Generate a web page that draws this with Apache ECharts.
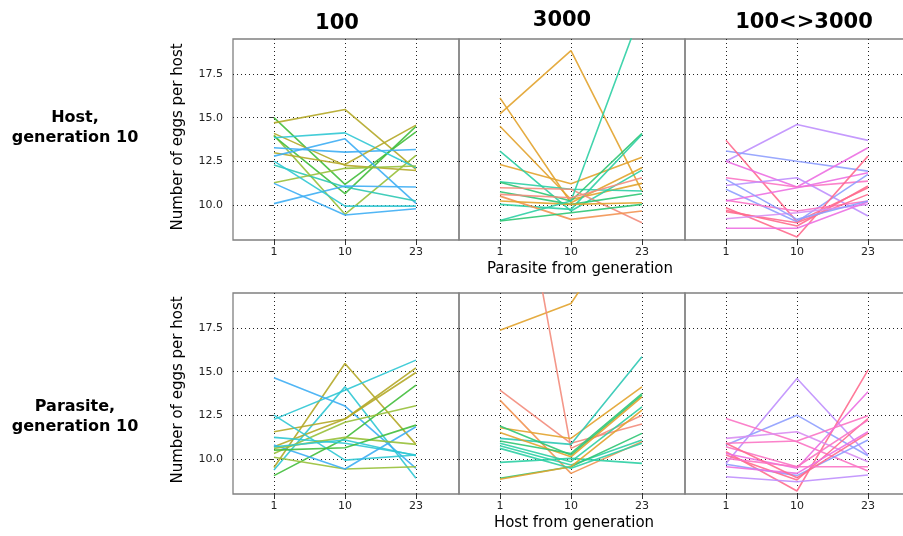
<!DOCTYPE html>
<html>
<head>
<meta charset="utf-8">
<script src="https://cdn.jsdelivr.net/npm/echarts@6/dist/echarts.min.js"></script>
<style>
  html, body { margin: 0; padding: 0; background: #fff; }
  #chart { width: 903px; height: 536px; }
</style>
</head>
<body>
<div id="chart"></div>
<script>
// Generations tested on the x axis and tick values on the y axis
const generations = ['1', '10', '23'];
const yTicks = [10, 12.5, 15, 17.5];
const panelTitles = ['100', '3000', '100<>3000'];
const rowLabels = ['Host,\ngeneration 10', 'Parasite,\ngeneration 10'];
const xAxisNames = ['Parasite from generation', 'Host from generation'];
const yAxisName = 'Number of eggs per host';

// Eggs per host for each replicate line: [gen 1, gen 10, gen 23]
// Row 1: host from generation 10
const host100 = [
  [15.00, 11.18, 14.19],
  [14.70, 15.47, 12.04],
  [14.10, 12.27, 11.98],
  [14.00, 9.47, 12.84],
  [13.94, 10.65, 14.50],
  [13.85, 14.13, 12.13],
  [13.28, 13.03, 13.18],
  [12.99, 12.32, 14.57],
  [12.80, 13.79, 10.10],
  [12.29, 11.03, 10.23],
  [11.28, 12.10, 12.23],
  [11.24, 9.43, 9.79],
  [10.08, 11.09, 11.03],
  [12.51, 9.94, 9.94]
];
const host3000 = [
  [15.22, 18.84, 10.80],
  [16.13, 10.13, 12.13],
  [14.51, 10.32, 11.24],
  [12.32, 11.22, 12.74],
  [13.09, 9.66, 12.00],
  [11.33, 10.90, 10.80],
  [11.30, 10.23, 14.10],
  [10.04, 9.75, 14.04],
  [10.99, 10.90, 8.99],
  [10.76, 10.04, 10.65],
  [10.51, 9.18, 9.66],
  [10.23, 10.04, 10.13],
  [9.12, 10.23, 21.20],
  [9.09, 9.56, 10.04],
  [10.61, 10.42, 11.56]
];
const hostMixed = [
  [12.51, 14.61, 13.70],
  [13.09, 12.51, 11.94],
  [13.71, 9.05, 10.99],
  [12.51, 11.03, 13.28],
  [11.56, 11.03, 11.37],
  [11.12, 11.56, 9.37],
  [10.90, 9.05, 11.75],
  [10.27, 9.66, 10.23],
  [10.23, 10.99, 11.85],
  [9.85, 8.17, 12.80],
  [9.70, 8.80, 11.09],
  [9.62, 8.99, 10.61],
  [9.22, 9.56, 10.04],
  [8.67, 8.67, 10.19],
  [11.47, 9.18, 10.23]
];
// Row 2: parasite from generation 10
const parasite100 = [
  [9.52, 15.47, 10.84],
  [12.27, 13.94, 15.66],
  [9.37, 14.13, 8.90],
  [14.65, 13.03, 9.47],
  [11.56, 12.29, 15.22],
  [10.70, 12.29, 14.95],
  [9.05, 11.18, 14.23],
  [10.32, 12.10, 13.05],
  [12.51, 9.94, 10.23],
  [10.10, 9.43, 9.56],
  [11.24, 10.90, 10.23],
  [10.80, 9.43, 11.85],
  [10.61, 11.24, 10.84],
  [10.51, 10.65, 11.94],
  [10.70, 11.09, 10.19]
];
const parasite3000 = [
  [17.37, 18.90, 25.00],
  [33.00, 10.61, 12.51],
  [13.94, 10.90, 12.00],
  [13.37, 9.18, 10.99],
  [11.79, 11.18, 14.13],
  [11.18, 10.84, 15.85],
  [11.89, 10.23, 13.66],
  [11.52, 10.13, 13.56],
  [11.03, 10.32, 13.75],
  [10.90, 9.85, 12.99],
  [10.76, 9.66, 11.09],
  [9.81, 10.04, 9.75],
  [8.90, 9.56, 11.47],
  [8.84, 9.56, 12.80],
  [10.61, 9.47, 10.90]
];
const parasiteMixed = [
  [9.75, 14.61, 10.23],
  [10.80, 12.51, 10.19],
  [12.32, 10.99, 9.31],
  [10.42, 8.17, 15.09],
  [10.32, 9.47, 13.85],
  [10.90, 11.03, 12.48],
  [11.18, 11.56, 9.85],
  [9.70, 9.05, 11.09],
  [10.23, 8.80, 12.32],
  [10.70, 9.56, 12.23],
  [9.56, 9.18, 11.56],
  [8.99, 8.70, 9.09],
  [10.90, 8.93, 11.47],
  [10.04, 9.56, 9.56]
];

// Line colours, one per replicate line in each panel
const OLIVE = '#b4a828', YGREEN = '#98c03a', GREEN = '#42be3c', CYAN = '#30c8d4', BLUE = '#3eaef4', TEAL = '#2ec8b4';
const ORANGE = '#e2a32e', SALMON = '#f38c7c', CORAL = '#f29452', MINT = '#2fc774', JADE = '#2ecfa4';
const PURPLE = '#bf8ffd', PERI = '#8f9ffe', MAGENTA = '#ec6fe2', PINK = '#fb74c4', ROSE = '#ff6c8e', LILAC = '#d88ff2';
const hostColors100 = [GREEN, OLIVE, OLIVE, YGREEN, GREEN, CYAN, BLUE, OLIVE, BLUE, TEAL, YGREEN, BLUE, BLUE, CYAN];
const hostColors3000 = [ORANGE, ORANGE, ORANGE, ORANGE, JADE, JADE, MINT, JADE, SALMON, MINT, CORAL, ORANGE, JADE, MINT, SALMON];
const hostColorsMixed = [PURPLE, PERI, ROSE, MAGENTA, PINK, PURPLE, PERI, PINK, MAGENTA, ROSE, ROSE, ROSE, LILAC, MAGENTA, PERI];
const parasiteColors100 = [OLIVE, CYAN, CYAN, BLUE, OLIVE, OLIVE, GREEN, YGREEN, CYAN, YGREEN, CYAN, BLUE, YGREEN, GREEN, CYAN];
const parasiteColors3000 = [ORANGE, SALMON, SALMON, CORAL, ORANGE, TEAL, MINT, ORANGE, MINT, JADE, JADE, JADE, MINT, ORANGE, JADE];
const parasiteColorsMixed = [PURPLE, PERI, PINK, ROSE, MAGENTA, PINK, LILAC, PERI, ROSE, PINK, MAGENTA, PURPLE, ROSE, PINK];

const FONT = 'DejaVu Sans';
const colLeft = [233, 459, 685];
const rowTop = [39, 293];
const PANEL_W = 226;
const PANEL_H = 201;

const panels = [
  { row: 0, col: 0, lines: host100, colors: hostColors100 },
  { row: 0, col: 1, lines: host3000, colors: hostColors3000 },
  { row: 0, col: 2, lines: hostMixed, colors: hostColorsMixed },
  { row: 1, col: 0, lines: parasite100, colors: parasiteColors100 },
  { row: 1, col: 1, lines: parasite3000, colors: parasiteColors3000 },
  { row: 1, col: 2, lines: parasiteMixed, colors: parasiteColorsMixed }
];

const gridLine = { show: true, lineStyle: { color: '#222', type: [1, 3], width: 1 } };

const grids = [], xAxes = [], yAxes = [], series = [];
panels.forEach((p, i) => {
  grids.push({
    left: colLeft[p.col], top: rowTop[p.row], width: PANEL_W, height: PANEL_H,
    show: true, borderColor: '#808080', borderWidth: 1.3,
    backgroundColor: 'transparent', containLabel: false, outerBoundsMode: 'none'
  });
  xAxes.push({
    gridIndex: i, type: 'value', min: -0.577, max: 2.606,
    axisLine: { show: false },
    axisTick: { show: true, customValues: [0, 1, 2], length: 5, lineStyle: { color: '#333', width: 1 } },
    axisLabel: {
      customValues: [0, 1, 2], formatter: v => generations[Math.round(v)],
      fontSize: 11, color: '#222', fontFamily: FONT, margin: 7
    },
    splitLine: gridLine
  });
  yAxes.push({
    gridIndex: i, type: 'value', min: 8, max: 19.5,
    axisLine: { show: false },
    axisTick: { show: p.col === 0, customValues: yTicks, length: 5, lineStyle: { color: '#333', width: 1 } },
    axisLabel: {
      show: p.col === 0, customValues: yTicks, formatter: v => v.toFixed(1),
      fontSize: 11, color: '#222', fontFamily: FONT, margin: 10
    },
    splitLine: gridLine
  });
  p.lines.forEach((vals, j) => {
    series.push({
      type: 'line', xAxisIndex: i, yAxisIndex: i,
      data: vals.map((v, k) => [k, v]),
      symbol: 'none', silent: true, clip: true,
      lineStyle: { color: p.colors[j % p.colors.length], width: 1.6, opacity: 0.9 }
    });
  });
});

function textStyle(text, size, weight) {
  return {
    text: text, fontFamily: FONT, fontSize: size, fontWeight: weight, fill: '#000',
    textAlign: 'center', textVerticalAlign: 'middle', lineHeight: Math.round(size * 1.25)
  };
}

const titleY = [24, 21, 23];
const titleX = [337, 562, 804];
const graphics = [];
panelTitles.forEach((t, i) => {
  graphics.push({ type: 'text', x: titleX[i], y: titleY[i], style: textStyle(t, 21, 'bold') });
});
[128, 417].forEach((y, r) => {
  graphics.push({ type: 'text', x: 75, y: y, style: textStyle(rowLabels[r], 16, 'bold') });
});
[137, 390].forEach(y => {
  graphics.push({ type: 'text', x: 178, y: y, rotation: Math.PI / 2, style: textStyle(yAxisName, 15, 'normal') });
});
[[580, 269], [574, 523]].forEach((pos, r) => {
  graphics.push({ type: 'text', x: pos[0], y: pos[1], style: textStyle(xAxisNames[r], 15, 'normal') });
});

const chart = echarts.init(document.getElementById('chart'), null, { renderer: 'canvas' });
chart.setOption({
  animation: false,
  backgroundColor: '#fff',
  grid: grids,
  xAxis: xAxes,
  yAxis: yAxes,
  series: series,
  graphic: graphics
});
</script>
</body>
</html>
